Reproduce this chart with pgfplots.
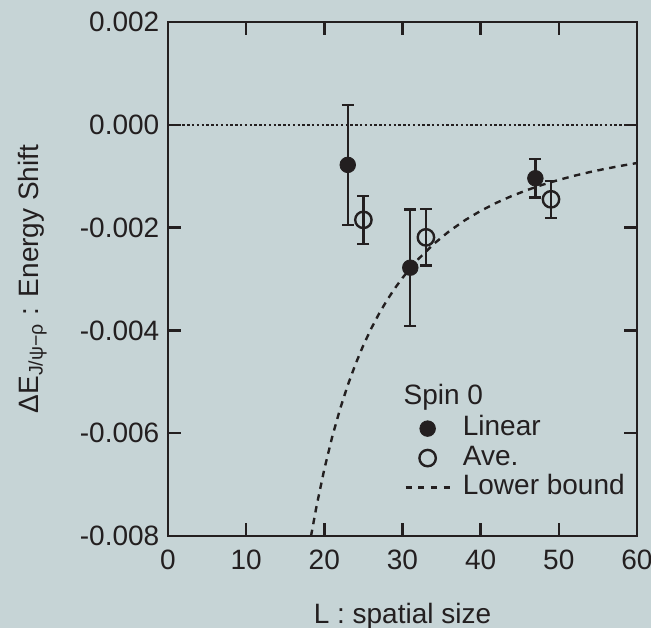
\documentclass[border=0pt]{standalone}
\usepackage{fontspec}
\setmainfont{Liberation Sans}
\usepackage{pgfplots}
\pgfplotsset{compat=1.18}
\usetikzlibrary{backgrounds}
\definecolor{bg}{RGB}{198,212,214}
\definecolor{ink}{RGB}{35,31,32}
\pgfplotsset{
  lbimage/.style={legend image code/.code={\draw[##1] (0pt,0pt) -- (22pt,0pt);}},
  lbmark/.style={legend image code/.code={\path[draw=none] (0pt,0pt) (22pt,0pt);
      \draw[##1] plot coordinates {(11pt,0pt)};}},
}

\begin{document}
\fontsize{14}{16.8}\selectfont
\begin{tikzpicture}
\begin{axis}[
  width=234.5pt, height=257pt, scale only axis,
  xmin=0, xmax=60, ymin=-0.008, ymax=0.002,
  xtick={0,10,20,30,40,50,60},
  xticklabels={0,10,20,30,40,50,60},
  ytick={-0.008,-0.006,-0.004,-0.002,0,0.002},
  yticklabels={-0.008,-0.006,-0.004,-0.002,0.000,0.002},
  scaled y ticks=false,
  tick align=inside, major tick length=6.3pt,
  every tick/.style={ink, line width=1.25pt},
  axis line style={ink, line width=1.25pt},
  font=\fontsize{14}{16.8}\selectfont,
  xticklabel style={yshift=-2.3pt, ink},
  yticklabel style={xshift=0.5pt, ink},
  xlabel={L : spatial size},
  xlabel style={at={(axis description cs:0.5,-0.1693)}, anchor=base, ink},
  ylabel={ΔE\textsubscript{J/ψ−ρ} : Energy Shift},
  ylabel style={at={(axis description cs:-0.289,0.5)}, anchor=center, ink},
  legend style={at={(axis cs:30.2,-0.00565)}, anchor=north west,
    draw=none, fill=none, inner sep=0pt, column sep=6pt, row sep=1.75pt,
    nodes={inner sep=0pt, text height=10pt, text depth=3pt, ink}},
  legend cell align=left,
  clip=true,
]
% zero line
\addplot[ink, line width=1.25pt, dash pattern=on 1.2pt off 1.2pt, forget plot]
  coordinates {(0,0) (60,0)};

% lower bound
\addplot[ink, line width=1.2pt, dash pattern=on 3.2pt off 2.8pt, forget plot]
  coordinates {
  (18.3,-0.00800) (19,-0.007424) (20,-0.0067) (21,-0.006077) (22,-0.005537)
  (23,-0.005066) (24,-0.004653) (25,-0.004288) (26,-0.003964) (27,-0.003676)
  (28,-0.003418) (29,-0.003187) (30,-0.002978) (32,-0.002617) (34,-0.002318)
  (36,-0.002068) (38,-0.001856) (40,-0.001675) (42,-0.001519) (44,-0.001384)
  (46,-0.001267) (48,-0.001163) (50,-0.001072) (52,-0.000991) (54,-0.000919)
  (56,-0.000855) (58,-0.000797) (60,-0.000744)};

% Linear (filled)
\addplot[ink, only marks, mark=*, mark size=3.9pt, lbmark,
  error bars/.cd, y dir=both, y explicit,
  error bar style={line width=1.2pt, ink},
  error mark options={rotate=90, mark size=3pt, line width=1.2pt, ink}]
  coordinates {
  (23,-0.00078) +- (0,0.00117)
  (31,-0.00278) +- (0,0.00113)
  (47,-0.00104) +- (0,0.000375)};
\addlegendentry{Linear}

% Ave. (open)
\addplot[ink, only marks, mark=o, mark size=4.1pt, mark options={line width=1.2pt}, lbmark,
  error bars/.cd, y dir=both, y explicit,
  error bar style={line width=1.2pt, ink},
  error mark options={rotate=90, mark size=3pt, line width=1.2pt, ink}]
  coordinates {
  (25,-0.00185) +- (0,0.00047)
  (33,-0.00219) +- (0,0.00055)
  (49,-0.00145) +- (0,0.00036)};
\addlegendentry{Ave.}

\addlegendimage{ink, line width=1.2pt, dash pattern=on 3pt off 3.33pt, lbimage}
\addlegendentry{Lower bound}

\node[anchor=base west, inner sep=0pt, text=ink] at (axis cs:30.1,-0.00545) {Spin 0};

\coordinate (bgsw) at (rel axis cs:-0.3582,-0.179);
\coordinate (bgne) at (rel axis cs:1.0299,1.0428);
\end{axis}
\begin{scope}[on background layer]
  \fill[bg] (bgsw) rectangle (bgne);
\end{scope}
\pgfresetboundingbox
\path[use as bounding box] (bgsw) rectangle (bgne);
\end{tikzpicture}
\end{document}
